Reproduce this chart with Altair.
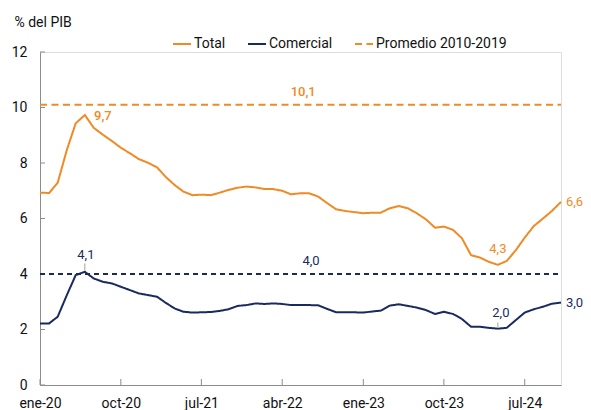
import altair as alt
import pandas as pd

# ---------------- data ----------------
months = pd.date_range("2020-01-01", periods=59, freq="MS").strftime("%Y-%m-%d").tolist()

total = [6.93, 6.92, 7.29, 8.47, 9.43, 9.73, 9.27, 9.02, 8.79, 8.55,
         8.35, 8.14, 8.01, 7.84, 7.51, 7.21, 6.97, 6.84, 6.86, 6.84,
         6.93, 7.03, 7.11, 7.15, 7.12, 7.06, 7.06, 7.00, 6.87, 6.91,
         6.91, 6.79, 6.55, 6.33, 6.27, 6.23, 6.19, 6.21, 6.21, 6.37,
         6.45, 6.37, 6.19, 5.97, 5.67, 5.71, 5.59, 5.29, 4.68, 4.59,
         4.44, 4.33, 4.47, 4.86, 5.31, 5.73, 6.00, 6.27, 6.60]

comercial = [2.22, 2.22, 2.46, 3.24, 3.96, 4.08, 3.84, 3.72, 3.66, 3.54,
             3.42, 3.30, 3.24, 3.18, 2.97, 2.76, 2.64, 2.61, 2.62, 2.63,
             2.67, 2.73, 2.85, 2.88, 2.94, 2.92, 2.94, 2.92, 2.88, 2.88,
             2.88, 2.87, 2.74, 2.62, 2.62, 2.62, 2.61, 2.65, 2.68, 2.86,
             2.91, 2.85, 2.79, 2.70, 2.56, 2.64, 2.56, 2.38, 2.10, 2.10,
             2.06, 2.03, 2.06, 2.34, 2.61, 2.73, 2.82, 2.93, 2.97]

promedio_total = 10.1
promedio_comercial = 4.0

series_names = ["Total", "Comercial", "Promedio 2010-2019"]
tick_dates = ["2020-01-01", "2020-10-01", "2021-07-01", "2022-04-01",
              "2023-01-01", "2023-10-01", "2024-07-01"]
y_ticks = [0, 2, 4, 6, 8, 10, 12]
month_abbr = ["ene", "feb", "mar", "abr", "may", "jun",
              "jul", "ago", "sep", "oct", "nov", "dic"]

ORANGE = "#F08A24"
NAVY = "#1B2A5E"
GRAY = "#8C8C8C"
FONT = "Roboto"


def fmt(v):
    return f"{v:.1f}".replace(".", ",")


df_lines = pd.concat([
    pd.DataFrame({"fecha": months, "valor": total, "serie": "Total"}),
    pd.DataFrame({"fecha": months, "valor": comercial, "serie": "Comercial"}),
    pd.DataFrame({"fecha": [months[0], months[-1]],
                  "valor": [promedio_total] * 2, "serie": "Promedio 2010-2019"}),
], ignore_index=True)

df_prom_com = pd.DataFrame({"fecha": [months[0], months[-1]],
                            "valor": [promedio_comercial] * 2})


def one(i, series):
    return pd.DataFrame({"fecha": [months[i]], "valor": [series[i]],
                         "txt": [fmt(series[i])]})


i_tmax = total.index(max(total))
i_tmin = total.index(min(total))
i_cmax = comercial.index(max(comercial))
i_cmin = comercial.index(min(comercial))
i_last = len(months) - 1
i_mid = 29

# ---------------- encodings ----------------
x_scale = alt.Scale(type="utc", domain=[alt.DateTime(year=2020, month=1, date=1, utc=True),
                                        alt.DateTime(year=2024, month=11, date=1, utc=True)])
y_scale = alt.Scale(domain=[0, 12])

label_expr = ("['" + "','".join(month_abbr) + "'][utcmonth(datum.value)] + '-' + "
              "utcFormat(datum.value, '%y')")

x_axis = alt.Axis(values=[alt.DateTime(year=int(d[:4]), month=int(d[5:7]), date=1, utc=True)
                          for d in tick_dates],
                  labelExpr=label_expr, tickSize=0, labelPadding=11, grid=False,
                  domainColor=GRAY, labelFontSize=14, labelFont=FONT, labelColor="#111",
                  title=None, labelFlush=False)
y_axis = alt.Axis(values=y_ticks, tickSize=0, labelPadding=13, grid=False,
                  domainColor=GRAY, labelFontSize=14, labelFont=FONT, labelColor="#111",
                  title="% del PIB", titleAngle=0, titleX=-26, titleY=-30,
                  titleAlign="left", titleBaseline="middle", titleFontWeight="normal",
                  titleFontSize=14, titleFont=FONT, titleColor="#111")

X = alt.X("fecha:T", scale=x_scale, axis=x_axis)
Y = alt.Y("valor:Q", scale=y_scale, axis=y_axis)

# ---------------- layers ----------------
lines = alt.Chart(df_lines).mark_line(strokeWidth=2).encode(
    x=X, y=Y,
    color=alt.Color("serie:N", scale=alt.Scale(domain=series_names,
                                               range=[ORANGE, NAVY, ORANGE]),
                    legend=alt.Legend(title=None, orient="none", legendX=132, legendY=-18,
                                      direction="horizontal", symbolType="stroke",
                                      symbolSize=324, symbolStrokeWidth=2,
                                      labelFontSize=14, labelFont=FONT, labelColor="#111",
                                      columnPadding=18, labelOffset=2, padding=0)),
    strokeDash=alt.StrokeDash("serie:N", scale=alt.Scale(domain=series_names,
                                                         range=[[1, 0], [1, 0], [7, 4.5]]),
                              legend=None),
    detail="serie:N",
)

prom_com = alt.Chart(df_prom_com).mark_line(strokeWidth=2, color=NAVY,
                                            strokeDash=[5, 4]).encode(x=X, y=Y)

y_tick_marks = alt.Chart(pd.DataFrame({"valor": y_ticks})).mark_rule(
    color=GRAY, strokeWidth=1).encode(y=Y, x=alt.value(0), x2=alt.value(5))

x_tick_marks = alt.Chart(pd.DataFrame({"fecha": tick_dates})).mark_rule(
    color=GRAY, strokeWidth=1).encode(x=X, y=alt.value(333), y2=alt.value(327))


def label(df, color, dx=0, dy=0, align="center", weight="normal"):
    return alt.Chart(df).mark_text(color=color, dx=dx, dy=dy, align=align,
                                   baseline="middle", fontSize=13, font=FONT,
                                   fontWeight=weight).encode(
        x=X, y=Y, text="txt:N")


labels = [
    label(one(i_tmax, total), ORANGE, dx=18, dy=1, weight=500),
    label(one(i_tmin, total), ORANGE, dy=-16),
    label(one(i_last, total), ORANGE, dx=5, align="left"),
    label(one(i_cmax, comercial), NAVY, dx=1, dy=-17),
    label(one(i_cmin, comercial), NAVY, dx=3, dy=-16),
    label(one(i_last, comercial), NAVY, dx=5, align="left"),
    label(pd.DataFrame({"fecha": [months[i_mid]], "valor": [promedio_total],
                        "txt": [fmt(promedio_total)]}), ORANGE, dx=3, dy=-13, weight=500),
    label(pd.DataFrame({"fecha": [months[i_mid + 1]], "valor": [promedio_comercial],
                        "txt": [fmt(promedio_comercial)]}), NAVY, dx=2, dy=-13),
]

leader_df = pd.DataFrame({"fecha": [months[i_cmax], months[i_cmin]],
                          "valor": [comercial[i_cmax], comercial[i_cmin]],
                          "up": [0.3, 0.22]})
leaders = alt.Chart(leader_df).transform_calculate(
    y1="datum.valor + 0.04", y2="datum.valor + datum.up"
).mark_rule(color="#A0A0A0", strokeWidth=1).encode(
    x=X, y=alt.Y("y1:Q", scale=y_scale, axis=y_axis), y2="y2:Q")

chart = alt.layer(
    y_tick_marks, x_tick_marks, prom_com, lines, leaders, *labels
).properties(
    width=521, height=333,
    autosize=alt.AutoSizeParams(type="none"),
    padding={"left": 32, "top": 44, "right": 22, "bottom": 25},
).configure_view(stroke=None).configure(font=FONT)

chart.save("out.html", embed_options={"renderer": "svg", "actions": False})
